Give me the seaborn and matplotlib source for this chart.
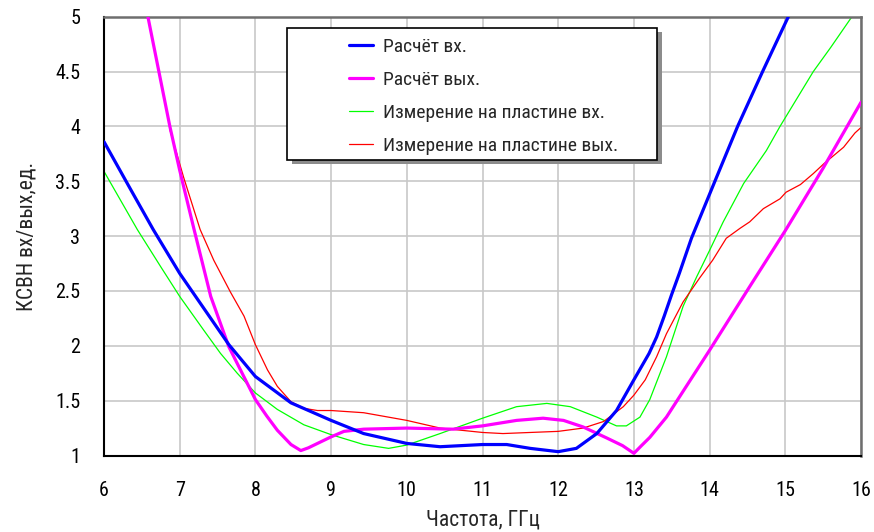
import matplotlib
matplotlib.use("Agg")
import matplotlib.pyplot as plt
import seaborn as sns
from matplotlib.patches import Rectangle

# values
calc_in_x = [6, 6.34, 6.65, 7.0, 7.32, 7.65, 8.0, 8.47, 9.0, 9.43, 10.0, 10.44, 11.0, 11.32,
             11.63, 12.0, 12.24, 12.51, 12.77, 13.0, 13.1, 13.2, 13.3, 13.4, 13.5, 13.6,
             13.76, 14.07, 14.37, 14.7, 15.04]
calc_in_y = [3.86, 3.44, 3.06, 2.66, 2.34, 2.01, 1.72, 1.48, 1.32, 1.20, 1.11, 1.08, 1.10, 1.10,
             1.065, 1.035, 1.065, 1.20, 1.41, 1.69, 1.81, 1.93, 2.08, 2.27, 2.47, 2.66,
             2.98, 3.5, 4.0, 4.5, 5.0]

calc_out_x = [6.58, 6.87, 7.0, 7.19, 7.41, 7.65, 8.0, 8.15, 8.29, 8.47, 8.6, 8.7, 8.82, 9.0,
              9.17, 9.43, 10.0, 10.61, 11.0, 11.45, 11.8, 12.07, 12.33, 12.64, 12.85, 13.0,
              13.1, 13.21, 13.43, 14.0, 14.53, 15.0, 15.5, 16.0]
calc_out_y = [5.0, 4.0, 3.60, 3.06, 2.45, 1.99, 1.51, 1.36, 1.23, 1.10, 1.045, 1.07, 1.11, 1.17,
              1.22, 1.24, 1.25, 1.24, 1.27, 1.32, 1.34, 1.32, 1.26, 1.16, 1.09, 1.02,
              1.09, 1.165, 1.35, 1.96, 2.54, 3.05, 3.62, 4.22]

meas_in_x = [6, 6.44, 6.75, 7.0, 7.32, 7.54, 7.76, 8.0, 8.29, 8.64, 9.0, 9.43, 9.76, 10.0,
             10.44, 11.0, 11.45, 11.85, 12.16, 12.51, 12.77, 12.9, 13.08, 13.21, 13.43,
             13.65, 13.83, 14.0, 14.18, 14.45, 14.62, 14.75, 14.93, 15.15, 15.37, 15.6, 15.88]
meas_in_y = [3.59, 3.06, 2.72, 2.45, 2.14, 1.93, 1.75, 1.57, 1.42, 1.28, 1.19, 1.10, 1.065, 1.095,
             1.20, 1.34, 1.445, 1.475, 1.445, 1.35, 1.27, 1.27, 1.35, 1.51, 1.90,
             2.36, 2.63, 2.87, 3.13, 3.48, 3.65, 3.78, 4.0, 4.25, 4.5, 4.72, 5.0]

meas_out_x = [6.87, 7.05, 7.27, 7.45, 7.67, 7.85, 8.0, 8.16, 8.29, 8.47, 8.64, 8.82, 9.0, 9.43,
              10.0, 10.44, 11.0, 11.27, 11.63, 12.0, 12.33, 12.6, 12.86, 13.0, 13.15, 13.3,
              13.43, 13.65, 13.87, 14.04, 14.22, 14.40, 14.53, 14.71, 14.93, 15.01, 15.2,
              15.37, 15.51, 15.77, 15.92, 16.0]
meas_out_y = [3.97, 3.54, 3.06, 2.78, 2.49, 2.27, 2.01, 1.78, 1.63, 1.49, 1.43, 1.41, 1.41, 1.39,
              1.32, 1.25, 1.21, 1.20, 1.21, 1.22, 1.25, 1.31, 1.445, 1.55, 1.69, 1.90,
              2.11, 2.40, 2.62, 2.78, 2.98, 3.07, 3.13, 3.25, 3.34, 3.40, 3.47,
              3.57, 3.66, 3.81, 3.94, 3.99]

labels = ["Расчёт вх.", "Расчёт вых.", "Измерение на пластине вх.",
          "Измерение на пластине вых."]
x_ticks = [6, 7, 8, 9, 10, 11, 12, 13, 14, 15, 16]
y_ticks = [1, 1.5, 2, 2.5, 3, 3.5, 4, 4.5, 5]
y_tick_labels = ["1", "1.5", "2", "2.5", "3", "3.5", "4", "4.5", "5"]

sns.set_theme(style="white")
plt.rcParams["font.family"] = ["Roboto Condensed", "DejaVu Sans"]

fig = plt.figure(figsize=(8.74, 5.32), dpi=100)
ax = fig.add_axes([104 / 874, 1 - 455.5 / 532, 757 / 874, 438.8 / 532])

sns.lineplot(x=calc_in_x, y=calc_in_y, color="#0000ff", linewidth=2.3, label=labels[0], ax=ax, zorder=4)
sns.lineplot(x=calc_out_x, y=calc_out_y, color="#ff00ff", linewidth=2.3, label=labels[1], ax=ax, zorder=3)
sns.lineplot(x=meas_in_x, y=meas_in_y, color="#00ff00", linewidth=0.9, label=labels[2], ax=ax, zorder=2)
sns.lineplot(x=meas_out_x, y=meas_out_y, color="#ff0000", linewidth=0.9, label=labels[3], ax=ax, zorder=2.5)

ax.set_xlim(6, 16)
ax.set_ylim(1, 5)
ax.set_xticks(x_ticks)
ax.set_xticklabels([str(t) for t in x_ticks])
ax.set_yticks(y_ticks)
ax.set_yticklabels(y_tick_labels)
ax.tick_params(axis="both", length=0, labelsize=14.5, colors="black")
ax.tick_params(axis="y", pad=17)
ax.tick_params(axis="x", pad=18)
ax.grid(True, color="#c8c8c8", linewidth=1.2)
ax.set_axisbelow(True)

for side in ["left", "bottom"]:
    ax.spines[side].set_color("black")
    ax.spines[side].set_linewidth(1.5)
for side in ["top", "right"]:
    ax.spines[side].set_color("#6e6e6e")
    ax.spines[side].set_linewidth(1.8)

ax.set_xlabel("Частота, ГГц", fontsize=15.5, labelpad=7)
ax.set_ylabel("КСВН вх/вых,ед.", fontsize=15.5, labelpad=13)

# legend frame with shadow
ax.add_patch(Rectangle((0.2417 + 0.006, 0.6734 - 0.009), 0.4892, 0.3016, transform=ax.transAxes,
                       facecolor="#8c8c8c", edgecolor="none", zorder=5))
ax.add_patch(Rectangle((0.2417, 0.6734), 0.4892, 0.3016, transform=ax.transAxes,
                       facecolor="white", edgecolor="black", linewidth=1.2, zorder=6))
leg = ax.legend(loc="upper left", bbox_to_anchor=(0.3236, 0.951), frameon=False,
                borderpad=0, borderaxespad=0, fontsize=14, handlelength=1.24,
                handletextpad=0.52, labelspacing=0.76)
leg.set_zorder(7)

fig.savefig("out.png", dpi=100)
